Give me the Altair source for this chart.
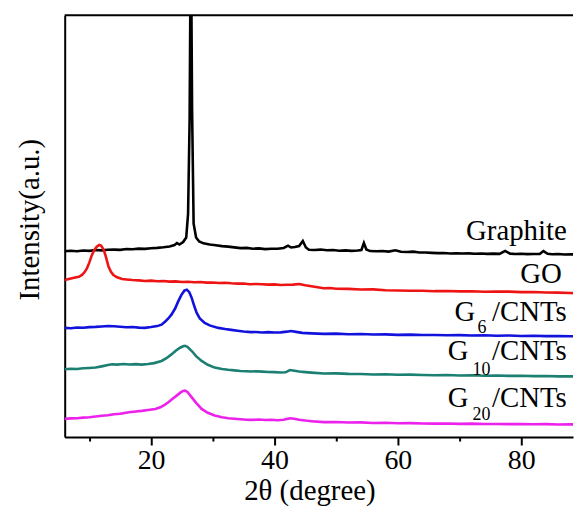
import altair as alt
import pandas as pd

# ---------------- data ----------------
graphite_2theta = [6, 7, 8, 9, 10, 11, 12, 13, 14, 15, 16, 17, 18, 19, 20, 21, 22, 23, 23.8, 24.2, 24.6, 25.2, 25.7, 26.0,
                   26.25, 26.45, 26.65, 26.9, 27.3, 27.8, 28.5, 29.5, 30.5, 31.5, 32.5, 33.5, 34.5, 35.5, 36.5, 37.5, 38.5,
                   39.5, 40.5, 41.5, 42.2, 42.7, 43.3, 44.0, 44.6, 45.1, 45.6, 46.5, 47.5, 48.5, 49.5, 50.5, 51.5, 52.5,
                   53.5, 54.1, 54.5, 54.9, 55.5, 56.5, 57.5, 58.5, 59.6, 60.5, 61.5, 62.5, 63.5, 64.5, 65.5, 66.5, 67.5,
                   68.5, 69.5, 70.5, 71.5, 72.5, 73.5, 74.5, 75.5, 76.5, 77.4, 78.2, 79, 80, 81, 82, 83, 83.6, 84.3, 85,
                   86, 87, 88, 89]
graphite_intensity = [187.3, 187.8, 187.2, 188.0, 187.6, 188.4, 188.1, 188.7, 188.9, 188.6, 189.4, 189.2, 189.9, 189.6,
                      190.3, 190.6, 191.2, 192.0, 193.5, 195.5, 194.0, 196.5, 201, 225, 320, 520, 330, 215, 201, 197,
                      195.2, 194.0, 193.2, 192.4, 191.9, 191.1, 190.4, 190.6, 189.8, 190.1, 189.4, 189.7, 189.8, 190.5,
                      192.8, 191.0, 191.6, 192.5, 197.5, 191.0, 188.8, 188.5, 188.9, 188.2, 188.4, 187.8, 188.1, 187.6,
                      187.9, 188.5, 195.5, 189.0, 187.4, 187.2, 187.5, 186.9, 188.2, 186.7, 186.4, 186.8, 186.0, 185.9,
                      185.6, 185.3, 185.5, 185.0, 185.2, 184.9, 185.1, 184.7, 184.9, 184.6, 184.8, 184.6, 187.5, 184.8,
                      184.5, 184.7, 184.3, 184.5, 184.4, 187.4, 184.6, 184.2, 184.4, 184.0, 184.2, 183.9]

go_2theta = [6, 7, 7.7, 8.3, 8.8, 9.2, 9.6, 10.0, 10.4, 10.8, 11.2, 11.6, 11.9, 12.3, 12.6, 12.9, 13.1, 13.5, 13.9, 14.5,
             15.3, 16, 17, 18, 19, 20, 21, 22, 23, 24, 25, 26, 27, 28, 29, 30, 31, 32, 33, 34, 35, 36, 37, 38, 39, 40,
             41, 42, 43, 44, 45, 46, 47, 48, 49, 50, 52, 54, 56, 58, 60, 62, 64, 66, 68, 70, 72, 74, 76, 78, 80, 82,
             84, 86, 88, 89.5]
go_intensity = [158.3, 159.8, 160.7, 161.5, 163.3, 166, 170, 176, 183.3, 188.5, 191.7, 193.5, 193.0, 189.0, 183.3, 176.5,
                171.7, 166.5, 163.3, 161.0, 159.3, 158.8, 158.2, 157.9, 157.3, 157.6, 157.0, 157.2, 156.6, 156.9, 156.3,
                156.5, 156.0, 156.2, 155.6, 155.8, 155.2, 155.4, 154.9, 154.6, 154.8, 154.0, 154.3, 153.9, 153.6, 153.8,
                153.2, 153.4, 153.6, 154.2, 153.0, 152.0, 151.0, 150.0, 150.2, 149.5, 149.3, 148.6, 148.8, 148.0, 147.6,
                147.4, 147.5, 147.0, 147.2, 146.8, 146.9, 146.4, 146.7, 146.5, 146.0, 146.2, 145.6, 145.5, 145.1, 145.0]

g6_2theta = [6, 7, 8, 9, 10, 11, 12, 13, 14, 15, 16, 17, 18, 19, 20, 21, 21.7, 22.3, 22.8, 23.3, 23.9, 24.4, 24.9, 25.4,
             25.8, 26.2, 26.6, 27.0, 27.4, 27.9, 28.7, 29.5, 30.9, 32, 33, 34, 35, 36.2, 37, 38, 39, 40, 41, 42, 42.7,
             43.5, 44.5, 46, 48, 50, 52, 54, 56, 58, 60, 62, 64, 66, 68, 70, 72, 74, 76, 78, 80, 82, 84, 86, 88, 89.5]
g6_intensity = [110.0, 109.6, 110.3, 110.1, 110.8, 111.0, 111.4, 111.9, 111.6, 111.2, 110.7, 110.9, 110.3, 110.0, 110.8,
                111.8, 113.3, 116.5, 119.5, 123.3, 129.5, 136.7, 143.0, 147.5, 148.5, 146.0, 140.0, 132.0, 125.0, 119.5,
                115.0, 112.5, 110.0, 108.8, 108.0, 107.2, 106.4, 105.7, 105.9, 105.4, 105.7, 105.3, 105.5, 106.2, 106.9,
                106.0, 105.0, 104.5, 104.0, 104.2, 103.6, 103.9, 103.3, 103.5, 103.0, 103.2, 102.8, 102.9, 102.5, 102.7,
                102.3, 102.5, 102.1, 102.3, 101.9, 102.0, 101.7, 101.9, 101.6, 101.7]

g10_2theta = [6, 7, 8, 9, 10, 11, 12, 13, 13.7, 14.5, 15.5, 16.5, 17.5, 18.5, 19.5, 20.5, 21.7, 22.5, 23.3, 24.0, 24.7,
              25.2, 25.5, 25.9, 26.6, 27.3, 28.2, 29.2, 30.3, 31.5, 32.5, 33.5, 34.5, 35.5, 36.2, 37, 38, 39, 40, 41,
              41.8, 42.5, 43.0, 44, 45, 46, 48, 50, 52, 54, 56, 58, 60, 62, 64, 66, 68, 70, 72, 74, 76, 78, 80, 82, 84,
              86, 88, 89.5]
g10_intensity = [68.3, 68.8, 68.5, 69.3, 69.6, 70.0, 71.2, 72.5, 73.3, 73.0, 73.6, 73.1, 73.5, 73.0, 73.6, 74.5, 76.7,
                 79.5, 83.3, 87.0, 90.0, 91.5, 92.0, 91.0, 86.7, 81.5, 76.7, 72.8, 70.0, 68.6, 67.8, 67.2, 66.6, 66.3,
                 66.0, 66.3, 65.9, 65.6, 65.4, 65.0, 65.2, 67.5, 67.0, 66.0, 65.4, 64.9, 64.0, 64.2, 63.7, 63.5, 63.0,
                 63.2, 62.7, 62.9, 62.5, 62.3, 62.6, 62.1, 62.3, 61.8, 62.0, 61.6, 61.8, 61.4, 61.5, 61.1, 61.2, 61.0]

g20_2theta = [6, 7, 8, 9, 10, 11, 12, 13, 14, 15, 16.4, 17.5, 18.5, 19.5, 20.7, 21.5, 22.2, 22.8, 23.5, 24.2, 24.8, 25.2,
              25.5, 25.9, 26.6, 27.3, 28.2, 29.2, 30.3, 31.5, 32.5, 33.5, 34.5, 35.5, 36.2, 37.5, 38.5, 39.5, 40.5, 41.5,
              42.5, 43.2, 44, 45, 46, 48, 50, 52, 54, 56, 58, 60, 62, 64, 66, 68, 70, 72, 74, 76, 78, 80, 82, 84, 86,
              88, 89.5]
g20_intensity = [18.3, 18.8, 19.0, 19.6, 20.0, 20.7, 21.5, 22.0, 22.9, 23.5, 25.0, 25.8, 26.4, 27.2, 28.3, 30.0, 32.5,
                 35.0, 38.5, 42.0, 45.0, 46.5, 46.8, 45.5, 40.0, 34.5, 28.3, 24.5, 21.7, 20.0, 19.0, 18.4, 17.9, 17.5,
                 17.3, 17.6, 17.2, 17.5, 17.0, 17.4, 19.0, 18.5, 17.5, 16.6, 16.0, 15.0, 15.2, 14.6, 14.8, 14.2, 14.4,
                 13.9, 14.0, 13.6, 13.5, 13.7, 13.3, 13.5, 13.1, 13.2, 13.0, 13.2, 12.9, 13.0, 12.7, 12.8, 12.7]

series_names = ["Graphite", "GO", "G6/CNTs", "G10/CNTs", "G20/CNTs"]
series_colors = ["#000000", "#ee1414", "#1212dd", "#1b7f72", "#ec22ec"]

x_ticks = [10, 20, 30, 40, 50, 60, 70, 80]

# label annotations (anchor in data units: 2theta, intensity; text centred vertically on the anchor)
label_main_text = ["Graphite", "GO", "/CNTs", "/CNTs", "/CNTs"]
label_main_x = [87.4, 86.6, 87.4, 87.4, 87.4]
label_main_y = [208, 164, 126, 87, 39]
label_g_text = ["G", "G", "G"]
label_g_x = [69.2, 68.1, 68.1]
label_g_y = [126, 87, 39]
label_sub_text = ["6", "10", "20"]
label_sub_x = [72.9, 72.1, 72.1]
label_sub_y = [110, 68, 22]

# ---------------- build tables ----------------
rows = []
for name, xs, ys in zip(series_names,
                        [graphite_2theta, go_2theta, g6_2theta, g10_2theta, g20_2theta],
                        [graphite_intensity, go_intensity, g6_intensity, g10_intensity, g20_intensity]):
    for a, b in zip(xs, ys):
        rows.append({"series": name, "tt": a, "I": b})
df = pd.DataFrame(rows)

FONT = "Liberation Serif"
W, H = 511, 424
xscale = alt.Scale(domain=[6, 88.4], nice=False, zero=False)
yscale = alt.Scale(domain=[0, 425], nice=False, zero=False)

xaxis = alt.Axis(values=x_ticks, title="2θ (degree)", grid=False,
                 labelExpr="datum.value % 20 == 0 ? datum.label : ''",
                 labelFont=FONT, labelFontSize=28, labelPadding=2,
                 titleFont=FONT, titleFontSize=29, titleFontWeight="normal",
                 titleX=246, titleY=40,
                 domainColor="black", domainWidth=2, tickColor="black", tickWidth=2,
                 tickSize={"condition": {"test": "datum.value % 20 == 0", "value": 8}, "value": 4})
yaxis = alt.Axis(title="Intensity(a.u.)", grid=False, labels=False, ticks=False,
                 titleFont=FONT, titleFontSize=29, titleFontWeight="normal",
                 titleAngle=-90, titleAlign="center", titleX=-20, titleY=205,
                 domainColor="black", domainWidth=2)

lines = alt.Chart(df).mark_line(strokeWidth=2.6, clip=True).encode(
    x=alt.X("tt:Q", scale=xscale, axis=xaxis),
    y=alt.Y("I:Q", scale=yscale, axis=yaxis),
    color=alt.Color("series:N", scale=alt.Scale(domain=series_names, range=series_colors), legend=None),
    order="tt:Q",
)

top_border = alt.Chart(pd.DataFrame({"k": [0]})).mark_rule(color="black", strokeWidth=2).encode(
    x=alt.value(0), x2=alt.value(W), y=alt.value(0))

main_df = pd.DataFrame({"t": label_main_text, "x": label_main_x, "y": label_main_y})
g_df = pd.DataFrame({"t": label_g_text, "x": label_g_x, "y": label_g_y})
sub_df = pd.DataFrame({"t": label_sub_text, "x": label_sub_x, "y": label_sub_y})

main_txt = alt.Chart(main_df).mark_text(font=FONT, fontSize=29, align="right").encode(
    x=alt.X("x:Q", scale=xscale), y=alt.Y("y:Q", scale=yscale), text="t:N")
g_txt = alt.Chart(g_df).mark_text(font=FONT, fontSize=29, align="left").encode(
    x=alt.X("x:Q", scale=xscale), y=alt.Y("y:Q", scale=yscale), text="t:N")
sub_txt = alt.Chart(sub_df).mark_text(font=FONT, fontSize=18, align="left").encode(
    x=alt.X("x:Q", scale=xscale), y=alt.Y("y:Q", scale=yscale), text="t:N")

chart = alt.layer(lines, top_border, main_txt, g_txt, sub_txt).properties(
    width=W, height=H,
    padding={"left": 8, "top": 5, "right": 0, "bottom": 0},
).configure(font=FONT).configure_view(stroke=None)

chart.save("out.html", embed_options={"renderer": "svg", "actions": False})
